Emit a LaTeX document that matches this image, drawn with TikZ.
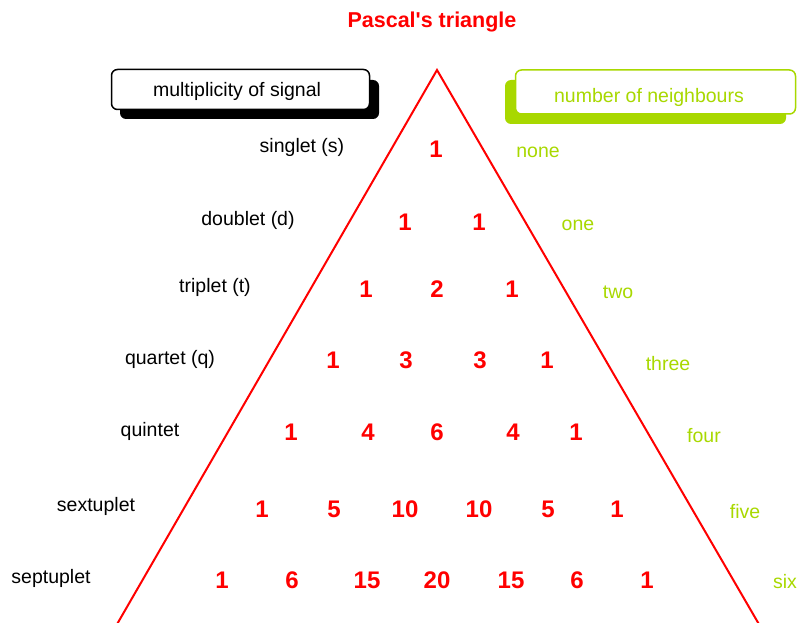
\documentclass[tikz,border=0pt]{standalone}
\usepackage{fontspec}
\setmainfont{Liberation Sans}
\definecolor{pred}{RGB}{255,0,0}
\definecolor{lime}{RGB}{168,216,0}
\begin{document}
\begin{tikzpicture}[x=1pt,y=-1pt,
  num/.style={text=pred,font=\fontsize{24}{28}\selectfont\bfseries,inner sep=0pt},
  mult/.style={text=black,font=\fontsize{19.5}{23}\selectfont,inner sep=0pt,yshift=-2pt},
  nb/.style={text=lime,font=\fontsize{19.5}{23}\selectfont,inner sep=0pt,yshift=-2pt},
  hdr/.style={draw,line width=1.5pt,rounded corners=6pt,fill=white,minimum height=40pt,inner sep=0pt}]
\useasboundingbox (0,0) rectangle (798,623);
% title
\node[text=pred,font=\fontsize{21.5}{25}\selectfont\bfseries,inner sep=0pt] (title) at (432,22) {Pascal\textquotesingle s triangle};
% triangle
\coordinate (apex) at (437,70);
\coordinate (bl) at (116,626);
\coordinate (br) at (760,626);
\draw[pred,line width=2pt] (bl) -- (apex) -- (br);
% left header box
\fill[black,rounded corners=6pt] (120,80) rectangle (379,119);
\node[hdr,draw=black,minimum width=258pt] (lbox) at (240.5,89.5) {};
\node[mult] (ltext) at (237,89) {multiplicity of signal};
% right header box
\fill[lime,rounded corners=6pt] (505,80) rectangle (786,124);
\node[hdr,draw=lime,minimum width=280pt,minimum height=44pt] (rbox) at (655.5,92) {};
\node[nb] (rtext) at (649,95) {number of neighbours};
% multiplicity labels
\node[mult] (m1) at (302,145) {singlet (s)};
\node[mult] (m2) at (248,218) {doublet (d)};
\node[mult] (m3) at (215,285) {triplet (t)};
\node[mult] (m4) at (170,357) {quartet (q)};
\node[mult] (m5) at (150,429) {quintet};
\node[mult] (m6) at (96,504) {sextuplet};
\node[mult] (m7) at (51,576) {septuplet};
% neighbour labels
\node[nb] (n1) at (538,150) {none};
\node[nb] (n2) at (578,223) {one};
\node[nb] (n3) at (618,290) {two};
\node[nb] (n4) at (668,362) {three};
\node[nb] (n5) at (704,434) {four};
\node[nb] (n6) at (745,510) {five};
\node[nb] (n7) at (785,580) {six};
% numbers
\node[num] (r1a) at (436,149) {1};
\node[num] (r2a) at (405,222) {1};
\node[num] (r2b) at (479,222) {1};
\node[num] (r3a) at (366,289) {1};
\node[num] (r3b) at (437,289) {2};
\node[num] (r3c) at (512,289) {1};
\node[num] (r4a) at (333,360) {1};
\node[num] (r4b) at (406,360) {3};
\node[num] (r4c) at (480,360) {3};
\node[num] (r4d) at (547,360) {1};
\node[num] (r5a) at (291,432) {1};
\node[num] (r5b) at (368,432) {4};
\node[num] (r5c) at (437,432) {6};
\node[num] (r5d) at (513,432) {4};
\node[num] (r5e) at (576,432) {1};
\node[num] (r6a) at (262,509) {1};
\node[num] (r6b) at (334,509) {5};
\node[num] (r6c) at (405,509) {10};
\node[num] (r6d) at (479,509) {10};
\node[num] (r6e) at (548,509) {5};
\node[num] (r6f) at (617,509) {1};
\node[num] (r7a) at (222,580) {1};
\node[num] (r7b) at (292,580) {6};
\node[num] (r7c) at (367,580) {15};
\node[num] (r7d) at (437,580) {20};
\node[num] (r7e) at (511,580) {15};
\node[num] (r7f) at (577,580) {6};
\node[num] (r7g) at (647,580) {1};
\end{tikzpicture}
\end{document}
